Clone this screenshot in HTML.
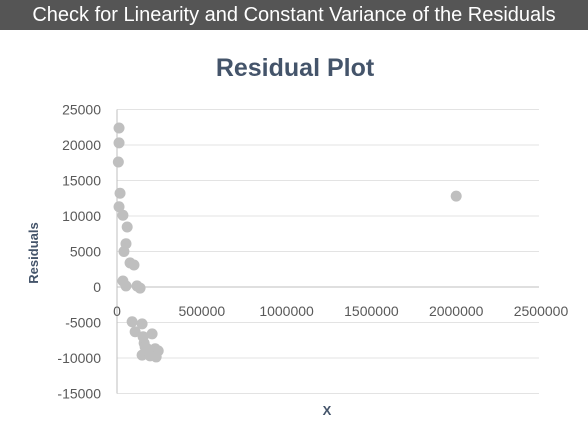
<!DOCTYPE html>
<html><head><meta charset="utf-8"><style>
body{margin:0;width:588px;height:429px;background:#fff;overflow:hidden;font-family:"Liberation Sans",sans-serif}
#hdr{position:absolute;left:0;top:0;width:588px;height:30px;background:#555;color:#fff;font-size:20px;line-height:30px;text-align:center;white-space:nowrap}
</style></head><body>
<div id="hdr">Check for Linearity and Constant Variance of the Residuals</div>
<svg id="chart" width="588" height="399" style="position:absolute;left:0;top:30px" viewBox="0 30 588 399"></svg>
<script>
const xs=[12000,12000,8000,18000,12000,35000,60000,53000,41000,77000,100000,35000,53000,118000,136000,89000,148000,107000,154000,207000,160000,166000,225000,243000,148000,195000,231000,178000,2000000];
const ys=[22400,20300,17600,13200,11300,10100,8450,6100,5000,3400,3100,850,150,150,-150,-4900,-5200,-6300,-7000,-6600,-7900,-8450,-8700,-9000,-9600,-9700,-9850,-8700,12800];
const yTicks=[25000,20000,15000,10000,5000,0,-5000,-10000,-15000];
const xTicks=[500000,1000000,1500000,2000000,2500000];
const NS="http://www.w3.org/2000/svg";
const svg=document.getElementById('chart');
const X=v=>117+v*(541-117)/2500000;
const Y=v=>287-v*0.0071;
function mk(t,a,txt){const e=document.createElementNS(NS,t);for(const k in a)e.setAttribute(k,a[k]);if(txt!==undefined)e.textContent=txt;svg.appendChild(e);return e;}
let e=mk('text',{x:295,y:76,'text-anchor':'middle','font-size':25,'font-weight':'bold',fill:'#44546a'},'Residual Plot');


yTicks.forEach(v=>{
 let g=mk('line',{x1:117,x2:539,y1:Y(v),y2:Y(v),stroke:v===0?'#bfbfbf':'#e3e3e3','stroke-width':1});
 
 
 let t=mk('text',{x:101,y:Y(v)+5,'text-anchor':'end','font-size':14,fill:'#595959'},String(v));
 
 
});
let ax=mk('line',{x1:117,x2:117,y1:Y(25000),y2:Y(-15000),stroke:'#bfbfbf','stroke-width':1});


let t0=mk('text',{x:X(0),y:316,'text-anchor':'middle','font-size':14,fill:'#595959'},'0');


xTicks.forEach(v=>{
 let t=mk('text',{x:X(v),y:316,'text-anchor':'middle','font-size':14,fill:'#595959'},String(v));
 
 
});
xs.forEach((x,i)=>{
 let c=mk('circle',{cx:X(x),cy:Y(ys[i]),r:5.5,fill:'#bfbfbf'});
 
 
});
let yt=mk('text',{x:0,y:0,'text-anchor':'middle','font-size':13,'font-weight':'bold',fill:'#44546a',transform:'translate(38,253) rotate(-90)'},'Residuals');


let xt=mk('text',{x:327,y:415,'text-anchor':'middle','font-size':13,'font-weight':'bold',fill:'#44546a'},'X');


</script>
</body></html>
